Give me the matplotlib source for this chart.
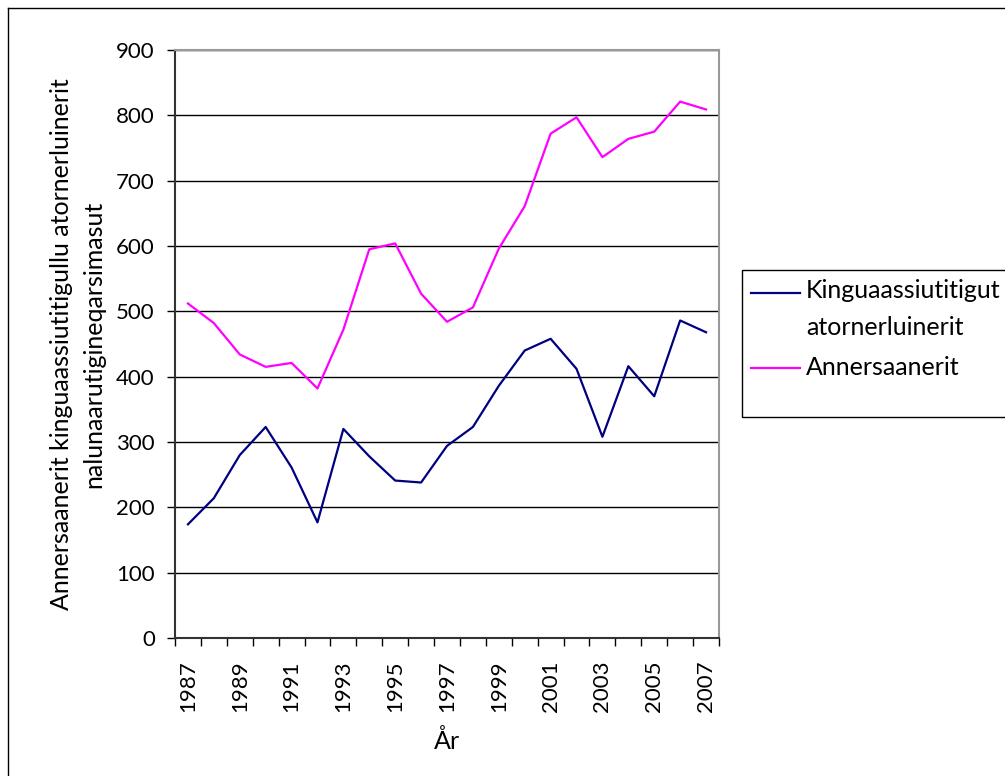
import numpy as np
import matplotlib.pyplot as plt
from matplotlib.lines import Line2D
from matplotlib.patches import Rectangle

# Data
aar = list(range(1987, 2008))
kinguaassiutitigut = [174, 214, 280, 323, 261, 177, 320, 278, 241, 238, 294,
                      323, 386, 440, 458, 412, 308, 416, 370, 486, 468]
annersaanerit = [512, 482, 434, 415, 421, 382, 472, 595, 604, 527, 484,
                 506, 596, 661, 772, 797, 736, 764, 775, 821, 809]
serie_navne = ['Kinguaassiutitigut\natornerluinerit', 'Annersaanerit']
farver = ['#000080', '#FF00FF']

plt.rcParams['font.family'] = ['Lato', 'DejaVu Sans']

W, H = 1005, 776
fig = plt.figure(figsize=(W / 100, H / 100), dpi=100)
ax = fig.add_axes([175 / W, 1 - 638 / H, 544 / W, 588 / H])

def px(x, y):
    # pixel coords (top-left origin) -> figure fraction
    return x / W, 1 - y / H

x = np.arange(len(aar))
ax.plot(x, kinguaassiutitigut, color=farver[0], lw=1.6)
ax.plot(x, annersaanerit, color=farver[1], lw=1.6)

ax.set_ylim(0, 900)
ax.set_yticks(range(0, 901, 100))
ax.set_xlim(-0.5, len(aar) - 0.5)
ax.yaxis.grid(True, color='black', lw=1.0)
ax.set_axisbelow(True)

# labels every other year, ticks between categories
ax.set_xticks(x[::2])
ax.set_xticklabels([str(a) for a in aar[::2]], rotation=90)
ax.set_xticks(np.arange(-0.5, len(aar), 1), minor=True)
ax.tick_params(axis='x', which='major', length=0, pad=16, labelsize=16)
ax.tick_params(axis='x', which='minor', length=5.5, width=1, direction='out')
ax.tick_params(axis='y', length=5.5, width=1, labelsize=16, pad=9)

for s in ['top', 'right']:
    ax.spines[s].set_color('#999999')
    ax.spines[s].set_linewidth(1.5)
for s in ['left', 'bottom']:
    ax.spines[s].set_color('#333333')
    ax.spines[s].set_linewidth(1.5)

ax.set_xlabel('År', fontsize=18, labelpad=12)
ax.set_ylabel('Annersaanerit kinguaassiutitigullu atornerluinerit\nnalunaarutigineqarsimasut',
              fontsize=18, labelpad=8, linespacing=1.45)

# legend drawn by hand so the handle sits on the first text line
fig.add_artist(Rectangle(px(742, 417), (W - 742 + 5) / W, 147 / H, transform=fig.transFigure,
                         facecolor='white', edgecolor='black', lw=1.0))
handle_y = [293, 368]
tekst_baseline = [[298, 335], [375]]
for navn, farve, hy, bl in zip(serie_navne, farver, handle_y, tekst_baseline):
    fig.add_artist(Line2D([751 / W, 800 / W], [1 - hy / H] * 2, color=farve, lw=1.6))
    for linje, b in zip(navn.split('\n'), bl):
        fig.text(*px(806, b), linje, fontsize=18, va='baseline', ha='left')

# outer border of the chart area
fig.add_artist(Line2D([8 / W, 8 / W], [0, 1 - 8 / H], color='black', lw=1))
fig.add_artist(Line2D([8 / W, 1], [1 - 8 / H, 1 - 8 / H], color='black', lw=1))

fig.savefig('out.png', dpi=100)
